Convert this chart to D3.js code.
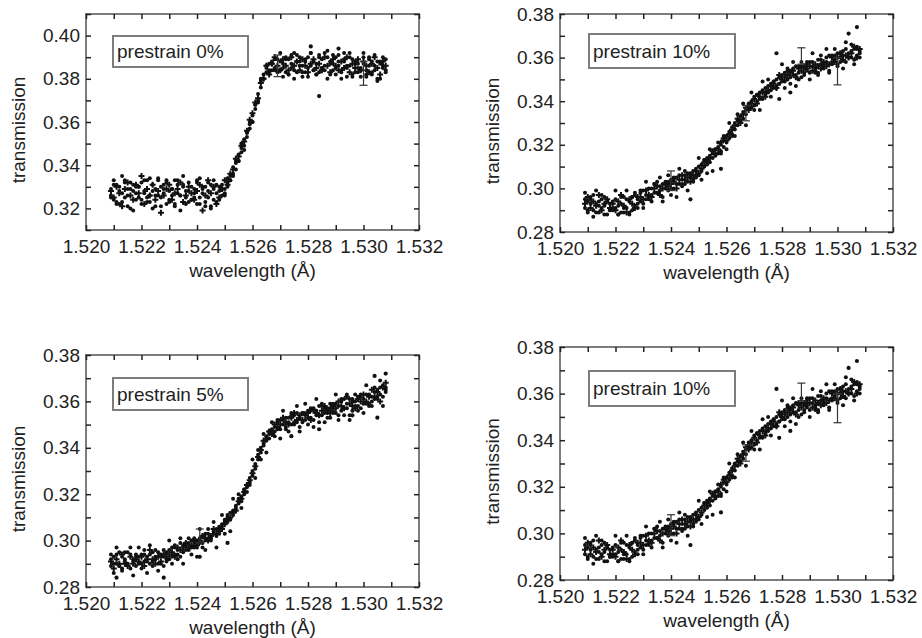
<!DOCTYPE html>
<html>
<head>
<meta charset="utf-8">
<script src="https://cdn.jsdelivr.net/npm/d3@7"></script>
<style>
  body { margin: 0; background: #fff; }
  svg { display: block; }
  text { font-family: "Liberation Sans", Arial, sans-serif; fill: #222; }
</style>
</head>
<body>
<div class="figure"></div>
<script>
// wavelength sampling of the scans (Å)
var wavelength = [
  1.5209,1.5210,1.5211,1.5212,1.5213,1.5214,1.5215,1.5216,1.5217,1.5218,
  1.5219,1.5220,1.5221,1.5222,1.5223,1.5224,1.5225,1.5226,1.5227,1.5228,
  1.5229,1.5230,1.5231,1.5232,1.5233,1.5234,1.5235,1.5236,1.5237,1.5238,
  1.5239,1.5240,1.5241,1.5242,1.5243,1.5244,1.5245,1.5246,1.5247,1.5248,
  1.5249,1.5250,1.5251,1.5252,1.5253,1.5254,1.5255,1.5256,1.5257,1.5258,
  1.5259,1.5260,1.5261,1.5262,1.5263,1.5264,1.5265,1.5266,1.5267,1.5268,
  1.5269,1.5270,1.5271,1.5272,1.5273,1.5274,1.5275,1.5276,1.5277,1.5278,
  1.5279,1.5280,1.5281,1.5282,1.5283,1.5284,1.5285,1.5286,1.5287,1.5288,
  1.5289,1.5290,1.5291,1.5292,1.5293,1.5294,1.5295,1.5296,1.5297,1.5298,
  1.5299,1.5300,1.5301,1.5302,1.5303,1.5304,1.5305,1.5306,1.5307,1.5308
];

// prestrain 0%
var p0a = [
  0.329,0.324,0.331,0.322,0.327,0.333,0.326,0.320,0.328,0.330,
  0.325,0.332,0.327,0.323,0.334,0.328,0.321,0.326,0.330,0.327,
  0.333,0.324,0.329,0.322,0.331,0.326,0.335,0.328,0.323,0.330,
  0.327,0.332,0.325,0.329,0.321,0.328,0.331,0.324,0.327,0.330,
  0.326,0.329,0.332,0.335,0.336,0.341,0.342,0.348,0.349,0.355,
  0.357,0.363,0.366,0.373,0.376,0.382,0.383,0.387,0.384,0.389,
  0.383,0.388,0.385,0.390,0.382,0.387,0.384,0.391,0.386,0.381,
  0.388,0.385,0.392,0.384,0.387,0.383,0.389,0.386,0.390,0.382,
  0.387,0.385,0.391,0.384,0.388,0.381,0.386,0.389,0.383,0.387,
  0.385,0.390,0.382,0.386,0.388,0.384,0.379,0.387,0.385,0.389
];
var p0b = [
  0.326,0.331,0.323,0.328,0.335,0.325,0.329,0.332,0.319,0.327,
  0.330,0.324,0.328,0.333,0.326,0.320,0.329,0.334,0.325,0.331,
  0.322,0.328,0.326,0.333,0.327,0.319,0.330,0.325,0.332,0.324,
  0.329,0.322,0.334,0.327,0.330,0.325,0.320,0.333,0.323,0.328,
  0.331,0.327,0.330,0.333,0.339,0.338,0.345,0.346,0.352,0.353,
  0.359,0.360,0.368,0.370,0.379,0.380,0.385,0.384,0.388,0.385,
  0.389,0.384,0.387,0.383,0.389,0.385,0.392,0.383,0.388,0.386,
  0.383,0.390,0.386,0.388,0.382,0.391,0.385,0.384,0.393,0.387,
  0.384,0.390,0.386,0.383,0.389,0.386,0.392,0.382,0.388,0.385,
  0.381,0.387,0.384,0.390,0.383,0.386,0.388,0.380,0.386,0.384
];
var p0c = [
  0.328,0.325,0.330,0.327,0.321,0.329,0.332,0.326,0.324,0.331,
  0.327,0.335,0.322,0.329,0.326,0.331,0.324,0.328,0.318,0.326,
  0.329,0.331,0.324,0.327,0.329,0.332,0.323,0.326,0.330,0.327,
  0.324,0.328,0.331,0.319,0.326,0.333,0.327,0.330,0.322,0.325,
  0.329,0.333,0.331,0.336,0.338,0.343,0.344,0.349,0.351,0.356,
  0.361,0.364,0.369,0.371,0.378,0.380,0.386,0.382,0.387,0.390,
  0.386,0.384,0.389,0.386,0.384,0.390,0.386,0.388,0.384,0.389,
  0.386,0.383,0.387,0.389,0.385,0.387,0.384,0.390,0.386,0.383,
  0.389,0.386,0.384,0.388,0.385,0.390,0.383,0.387,0.385,0.389,
  0.384,0.388,0.386,0.383,0.387,0.390,0.385,0.382,0.388,0.386
];
var p0d = [
  0.325,0.333,0.322,0.330,0.323,0.332,0.321,0.329,0.331,0.324,
  0.330,0.322,0.333,0.325,0.323,0.331,0.326,0.333,0.321,0.329,
  0.332,0.323,0.329,0.321,0.333,0.326,0.331,0.322,0.328,0.324,
  0.325,0.333,0.322,0.330,0.323,0.332,0.321,0.329,0.331,0.324,
  0.329,0.326,0.334,0.333,0.335,0.342,0.342,0.350,0.347,0.355,
  0.360,0.360,0.368,0.369,0.380,0.380,0.386,0.383,0.387,0.384,
  0.384,0.392,0.381,0.389,0.382,0.391,0.380,0.388,0.390,0.383,
  0.389,0.381,0.392,0.384,0.382,0.390,0.385,0.392,0.380,0.388,
  0.391,0.382,0.388,0.380,0.392,0.385,0.390,0.381,0.387,0.383,
  0.384,0.392,0.381,0.389,0.382,0.391,0.380,0.388,0.390,0.383
];
var p0OutX = [1.5284, 1.5281, 1.5291];
var p0OutY = [0.372, 0.395, 0.394];
var p0ErrX = [1.5269, 1.5300];
var p0ErrLo = [0.381, 0.377];
var p0ErrHi = [0.391, 0.388];

// prestrain 5%
var p5a = [
  0.289,0.293,0.290,0.295,0.288,0.292,0.290,0.294,0.291,0.289,
  0.293,0.290,0.296,0.291,0.294,0.289,0.292,0.295,0.290,0.293,
  0.291,0.296,0.293,0.297,0.294,0.299,0.295,0.298,0.296,0.300,
  0.297,0.300,0.299,0.302,0.300,0.303,0.301,0.304,0.302,0.305,
  0.306,0.309,0.308,0.312,0.311,0.315,0.316,0.319,0.322,0.323,
  0.327,0.328,0.333,0.335,0.340,0.341,0.345,0.344,0.348,0.347,
  0.351,0.348,0.352,0.349,0.353,0.350,0.354,0.351,0.349,0.355,
  0.352,0.356,0.353,0.357,0.354,0.351,0.358,0.355,0.353,0.357,
  0.359,0.355,0.358,0.356,0.361,0.357,0.354,0.360,0.358,0.362,
  0.357,0.361,0.359,0.363,0.360,0.364,0.361,0.366,0.362,0.365
];
var p5b = [
  0.292,0.290,0.294,0.289,0.293,0.291,0.295,0.288,0.292,0.294,
  0.290,0.294,0.291,0.293,0.290,0.295,0.293,0.290,0.294,0.296,
  0.295,0.292,0.297,0.294,0.296,0.293,0.298,0.296,0.299,0.297,
  0.299,0.297,0.301,0.299,0.303,0.301,0.300,0.303,0.305,0.303,
  0.307,0.308,0.310,0.309,0.313,0.314,0.318,0.317,0.320,0.324,
  0.325,0.330,0.331,0.337,0.338,0.342,0.343,0.346,0.346,0.349,
  0.348,0.352,0.350,0.353,0.351,0.354,0.350,0.355,0.353,0.351,
  0.355,0.353,0.357,0.352,0.356,0.358,0.354,0.357,0.355,0.359,
  0.356,0.359,0.354,0.360,0.357,0.359,0.361,0.356,0.360,0.358,
  0.362,0.359,0.363,0.358,0.362,0.361,0.365,0.363,0.367,0.364
];
var p5c = [
  0.291,0.288,0.292,0.290,0.294,0.290,0.289,0.293,0.290,0.292,
  0.291,0.293,0.289,0.292,0.296,0.292,0.290,0.293,0.291,0.294,
  0.293,0.294,0.295,0.293,0.297,0.296,0.297,0.299,0.297,0.298,
  0.300,0.298,0.300,0.302,0.301,0.300,0.302,0.305,0.303,0.304,
  0.305,0.307,0.309,0.310,0.312,0.313,0.317,0.318,0.321,0.324,
  0.326,0.329,0.332,0.336,0.339,0.343,0.344,0.347,0.346,0.350,
  0.349,0.350,0.353,0.351,0.350,0.353,0.355,0.352,0.354,0.352,
  0.354,0.355,0.352,0.356,0.355,0.354,0.356,0.358,0.356,0.355,
  0.358,0.357,0.360,0.358,0.357,0.362,0.359,0.358,0.357,0.361,
  0.360,0.363,0.360,0.362,0.365,0.362,0.364,0.360,0.366,0.368
];
var p5d = [
  0.294,0.286,0.297,0.289,0.287,0.295,0.290,0.297,0.285,0.293,
  0.297,0.288,0.294,0.286,0.298,0.291,0.296,0.287,0.293,0.289,
  0.292,0.300,0.290,0.298,0.292,0.301,0.290,0.299,0.301,0.294,
  0.301,0.293,0.305,0.297,0.296,0.305,0.301,0.308,0.297,0.306,
  0.311,0.303,0.311,0.304,0.318,0.313,0.320,0.314,0.322,0.321,
  0.324,0.335,0.327,0.339,0.335,0.346,0.338,0.347,0.351,0.345,
  0.352,0.344,0.356,0.348,0.347,0.355,0.351,0.358,0.347,0.355,
  0.359,0.350,0.356,0.349,0.361,0.354,0.359,0.351,0.357,0.353,
  0.355,0.363,0.352,0.361,0.354,0.363,0.352,0.361,0.363,0.356,
  0.363,0.355,0.367,0.359,0.358,0.366,0.362,0.369,0.358,0.366
];
var p5OutX = [1.5211, 1.5228, 1.5241, 1.5251, 1.5274, 1.5284, 1.5296, 1.5305, 1.5304, 1.5308];
var p5OutY = [0.284, 0.284, 0.293, 0.299, 0.345, 0.348, 0.354, 0.353, 0.371, 0.372];
var p5ErrX = [1.5241];
var p5ErrLo = [0.299];
var p5ErrHi = [0.305];

// prestrain 10%
var p10a = [
  0.295,0.290,0.293,0.297,0.289,0.294,0.291,0.296,0.288,0.293,
  0.290,0.295,0.292,0.289,0.296,0.291,0.294,0.290,0.297,0.293,
  0.294,0.299,0.295,0.300,0.297,0.302,0.298,0.301,0.296,0.303,
  0.299,0.304,0.300,0.305,0.302,0.301,0.306,0.303,0.307,0.304,
  0.309,0.306,0.311,0.310,0.314,0.312,0.316,0.315,0.319,0.317,
  0.322,0.324,0.323,0.328,0.327,0.331,0.333,0.332,0.336,0.338,
  0.337,0.342,0.340,0.344,0.341,0.346,0.344,0.348,0.346,0.350,
  0.348,0.352,0.349,0.354,0.351,0.355,0.352,0.350,0.356,0.353,
  0.357,0.353,0.358,0.355,0.352,0.359,0.356,0.360,0.354,0.358,
  0.361,0.357,0.360,0.363,0.358,0.362,0.360,0.364,0.361,0.363
];
var p10b = [
  0.291,0.294,0.296,0.290,0.293,0.289,0.295,0.292,0.294,0.290,
  0.294,0.291,0.288,0.293,0.291,0.295,0.289,0.296,0.292,0.295,
  0.298,0.293,0.297,0.296,0.300,0.298,0.303,0.299,0.302,0.300,
  0.303,0.300,0.305,0.302,0.306,0.304,0.302,0.307,0.305,0.308,
  0.306,0.310,0.308,0.313,0.311,0.315,0.314,0.318,0.316,0.320,
  0.319,0.321,0.326,0.325,0.330,0.329,0.331,0.335,0.334,0.337,
  0.340,0.338,0.343,0.341,0.345,0.343,0.347,0.345,0.349,0.347,
  0.351,0.349,0.353,0.350,0.354,0.352,0.356,0.353,0.351,0.355,
  0.354,0.358,0.356,0.353,0.359,0.357,0.355,0.358,0.361,0.357,
  0.359,0.362,0.358,0.361,0.364,0.360,0.363,0.359,0.365,0.362
];
var p10c = [
  0.293,0.296,0.291,0.294,0.292,0.297,0.290,0.293,0.295,0.291,
  0.293,0.290,0.294,0.297,0.292,0.289,0.295,0.293,0.291,0.296,
  0.296,0.295,0.299,0.297,0.296,0.300,0.301,0.297,0.300,0.302,
  0.301,0.302,0.303,0.300,0.304,0.306,0.304,0.305,0.303,0.306,
  0.308,0.307,0.309,0.312,0.313,0.314,0.317,0.316,0.318,0.321,
  0.323,0.322,0.325,0.327,0.329,0.332,0.330,0.334,0.337,0.336,
  0.339,0.341,0.339,0.342,0.344,0.342,0.345,0.347,0.348,0.346,
  0.352,0.350,0.351,0.352,0.353,0.354,0.351,0.355,0.354,0.356,
  0.355,0.356,0.354,0.357,0.356,0.355,0.358,0.356,0.357,0.360,
  0.358,0.360,0.362,0.359,0.361,0.360,0.362,0.365,0.360,0.364
];
var p10d = [
  0.298,0.289,0.295,0.287,0.299,0.292,0.297,0.288,0.294,0.290,
  0.291,0.299,0.288,0.296,0.289,0.299,0.288,0.296,0.298,0.291,
  0.299,0.291,0.303,0.295,0.294,0.302,0.298,0.305,0.294,0.302,
  0.306,0.297,0.304,0.296,0.309,0.302,0.308,0.299,0.306,0.303,
  0.305,0.314,0.304,0.313,0.307,0.318,0.308,0.318,0.321,0.316,
  0.324,0.318,0.330,0.324,0.324,0.334,0.331,0.339,0.329,0.339,
  0.344,0.336,0.343,0.336,0.349,0.344,0.350,0.342,0.349,0.346,
  0.348,0.357,0.346,0.355,0.348,0.358,0.347,0.356,0.358,0.352,
  0.358,0.350,0.362,0.354,0.353,0.361,0.357,0.364,0.353,0.361,
  0.364,0.356,0.362,0.355,0.367,0.360,0.366,0.357,0.364,0.360
];
var p10OutX = [1.5247, 1.5258, 1.5278, 1.5279, 1.5283, 1.5304, 1.5307];
var p10OutY = [0.295, 0.309, 0.362, 0.341, 0.344, 0.371, 0.374];
var p10ErrX = [1.5240, 1.5267, 1.5287, 1.5300];
var p10ErrLo = [0.299, 0.331, 0.357, 0.3475];
var p10ErrHi = [0.308, 0.338, 0.3645, 0.360];

var xTicks = [1.520, 1.522, 1.524, 1.526, 1.528, 1.530, 1.532];
var xMinor = [1.521, 1.523, 1.525, 1.527, 1.529, 1.531];
var yTicksTop = [0.32, 0.34, 0.36, 0.38, 0.40];
var yTicksLow = [0.28, 0.30, 0.32, 0.34, 0.36, 0.38];

var W = 922, H = 638;

var panels = [
  { label: "prestrain 0%", scans: [p0a, p0b, p0c, p0d], outX: p0OutX, outY: p0OutY,
    errX: p0ErrX, errLo: p0ErrLo, errHi: p0ErrHi, yDomain: [0.31, 0.41], yTicks: yTicksTop,
    left: 86, right: 419, top: 14, bottom: 230, box: [113, 36, 135, 31] },
  { label: "prestrain 10%", scans: [p10a, p10b, p10c, p10d], outX: p10OutX, outY: p10OutY,
    errX: p10ErrX, errLo: p10ErrLo, errHi: p10ErrHi, yDomain: [0.28, 0.38], yTicks: yTicksLow,
    left: 560, right: 893, top: 14, bottom: 232, box: [589, 34, 146, 34] },
  { label: "prestrain 5%", scans: [p5a, p5b, p5c, p5d], outX: p5OutX, outY: p5OutY,
    errX: p5ErrX, errLo: p5ErrLo, errHi: p5ErrHi, yDomain: [0.28, 0.38], yTicks: yTicksLow,
    left: 86, right: 419, top: 355, bottom: 587, box: [113, 378, 135, 32] },
  { label: "prestrain 10%", scans: [p10a, p10b, p10c, p10d], outX: p10OutX, outY: p10OutY,
    errX: p10ErrX, errLo: p10ErrLo, errHi: p10ErrHi, yDomain: [0.28, 0.38], yTicks: yTicksLow,
    left: 560, right: 893, top: 347, bottom: 580, box: [589, 371, 146, 35] }
];

var svg = d3.select(".figure")
  .append("svg")
  .attr("width", W)
  .attr("height", H)
  .style("background", "#fff");

var cross = d3.symbol().type(d3.symbolCross).size(20);
var isMajor = function(list, d) {
  return list.some(function(t) { return Math.abs(t - d) < 1e-9; });
};

panels.forEach(function(p) {
  var x = d3.scaleLinear().domain([1.520, 1.532]).range([p.left, p.right]);
  var y = d3.scaleLinear().domain(p.yDomain).range([p.bottom, p.top]);
  // every 0.01 between the frame edges, major labels included
  var yAll = d3.range(Math.round(p.yDomain[0] * 100), Math.round(p.yDomain[1] * 100) + 1)
    .map(function(v) { return v / 100; });
  var g = svg.append("g");

  // frame
  g.append("rect")
    .attr("x", p.left).attr("y", p.top)
    .attr("width", p.right - p.left).attr("height", p.bottom - p.top)
    .attr("fill", "none").attr("stroke", "#7d7d7d").attr("stroke-width", 2);

  // axes, ticks pointing in
  var bottom = g.append("g").attr("transform", "translate(0," + p.bottom + ")")
    .call(d3.axisBottom(x).tickValues(xTicks.concat(xMinor)).tickSize(-5).tickPadding(10)
      .tickFormat(function(d) { return isMajor(xTicks, d) ? d3.format(".3f")(d) : ""; }));
  var top = g.append("g").attr("transform", "translate(0," + p.top + ")")
    .call(d3.axisTop(x).tickValues(xTicks.concat(xMinor)).tickSize(-5).tickFormat(""));
  var left = g.append("g").attr("transform", "translate(" + p.left + ",0)")
    .call(d3.axisLeft(y).tickValues(yAll).tickSize(-5).tickPadding(6)
      .tickFormat(function(d) { return isMajor(p.yTicks, d) ? d3.format(".2f")(d) : ""; }));
  var right = g.append("g").attr("transform", "translate(" + p.right + ",0)")
    .call(d3.axisRight(y).tickValues(yAll).tickSize(-5).tickFormat(""));

  [bottom, top, left, right].forEach(function(a) {
    a.select(".domain").remove();
    a.selectAll(".tick line").attr("stroke", "#222").attr("stroke-width", 1.5);
    a.selectAll(".tick text").attr("font-size", 19).attr("fill", "#2a2a2a")
      .attr("font-family", "'Liberation Sans', Arial, sans-serif");
  });

  // data: scans 0, 1, 3 as dots, scan 2 as crosses
  var marks = g.append("g");
  p.scans.forEach(function(scan, k) {
    if (k !== 2) {
      marks.selectAll(null).data(scan).enter().append("circle")
        .attr("cx", function(d, i) { return x(wavelength[i]); })
        .attr("cy", function(d) { return y(d); })
        .attr("r", 2)
        .attr("fill", "#111");
    } else {
      marks.selectAll(null).data(scan).enter().append("path")
        .attr("d", cross)
        .attr("transform", function(d, i) { return "translate(" + x(wavelength[i]) + "," + y(d) + ")"; })
        .attr("fill", "#111");
    }
  });
  marks.selectAll(null).data(p.outY).enter().append("circle")
    .attr("cx", function(d, i) { return x(p.outX[i]); })
    .attr("cy", function(d) { return y(d); })
    .attr("r", 2.1)
    .attr("fill", "#111");

  // error bars
  var err = marks.selectAll(null).data(p.errX).enter().append("g").attr("stroke", "#333").attr("stroke-width", 1.2);
  err.append("line")
    .attr("x1", function(d) { return x(d); }).attr("x2", function(d) { return x(d); })
    .attr("y1", function(d, i) { return y(p.errLo[i]); })
    .attr("y2", function(d, i) { return y(p.errHi[i]); });
  err.append("line")
    .attr("x1", function(d) { return x(d) - 4; }).attr("x2", function(d) { return x(d) + 4; })
    .attr("y1", function(d, i) { return y(p.errLo[i]); })
    .attr("y2", function(d, i) { return y(p.errLo[i]); });
  err.append("line")
    .attr("x1", function(d) { return x(d) - 4; }).attr("x2", function(d) { return x(d) + 4; })
    .attr("y1", function(d, i) { return y(p.errHi[i]); })
    .attr("y2", function(d, i) { return y(p.errHi[i]); });

  // legend box
  g.append("rect")
    .attr("x", p.box[0]).attr("y", p.box[1])
    .attr("width", p.box[2]).attr("height", p.box[3])
    .attr("fill", "#fff").attr("stroke", "#7d7d7d").attr("stroke-width", 2);
  g.append("text")
    .attr("x", p.box[0] + 4).attr("y", p.box[1] + p.box[3] / 2)
    .attr("dy", "0.35em")
    .attr("font-size", 19)
    .text(p.label);

  // axis titles
  g.append("text")
    .attr("x", (p.left + p.right) / 2).attr("y", p.bottom + 40)
    .attr("dy", "0.35em")
    .attr("text-anchor", "middle")
    .attr("font-size", 19)
    .text("wavelength (Å)");
  g.append("text")
    .attr("transform", "translate(" + (p.left - 68) + "," + ((p.top + p.bottom) / 2 + 8) + ") rotate(-90)")
    .attr("dy", "0.35em")
    .attr("text-anchor", "middle")
    .attr("font-size", 19)
    .text("transmission");
});
</script>
</body>
</html>
